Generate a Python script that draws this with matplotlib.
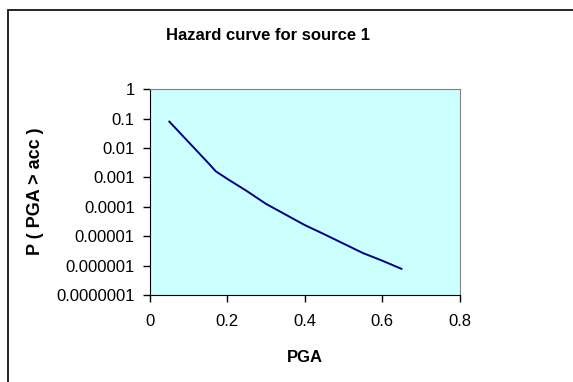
import matplotlib
matplotlib.use('Agg')
import matplotlib.pyplot as plt
from matplotlib.patches import Rectangle
from matplotlib.ticker import FixedLocator, FixedFormatter, NullLocator
import numpy as np

plt.rcParams['font.family'] = ['Liberation Sans', 'DejaVu Sans']

# hazard curve (log10 of exceedance probability)
pga = [0.05, 0.10, 0.15, 0.17, 0.20, 0.25, 0.30, 0.35, 0.40, 0.45, 0.50, 0.55, 0.60, 0.65]
log_p = [-1.10, -1.80, -2.50, -2.79, -3.05, -3.46, -3.90, -4.26, -4.62, -4.93, -5.25, -5.57, -5.83, -6.11]
prob = 10.0 ** np.array(log_p)

y_ticks = [1, 0.1, 0.01, 0.001, 0.0001, 0.00001, 0.000001, 0.0000001]
y_labels = ['1', '0.1', '0.01', '0.001', '0.0001', '0.00001', '0.000001', '0.0000001']
x_ticks = [0, 0.2, 0.4, 0.6, 0.8]
x_labels = ['0', '0.2', '0.4', '0.6', '0.8']

fig = plt.figure(figsize=(5.73, 3.82), dpi=100)
ax = fig.add_axes([150 / 573, 1 - 295 / 382, 309.5 / 573, 205.7 / 382])
ax.set_facecolor('#CCFFFF')

ax.plot(pga, prob, color='#000080', lw=1.4)

ax.set_yscale('log')
ax.set_xlim(0, 0.8)
ax.set_ylim(1e-7, 1)
ax.yaxis.set_major_locator(FixedLocator(y_ticks))
ax.yaxis.set_major_formatter(FixedFormatter(y_labels))
ax.yaxis.set_minor_locator(NullLocator())
ax.xaxis.set_major_locator(FixedLocator(x_ticks))
ax.xaxis.set_major_formatter(FixedFormatter(x_labels))
ax.tick_params(axis='both', direction='out', length=5, width=1, labelsize=12, colors='black')
ax.tick_params(axis='y', pad=6)
ax.tick_params(axis='x', pad=9)

for side in ('top', 'right'):
    ax.spines[side].set_color('#808080')
for side in ('left', 'bottom'):
    ax.spines[side].set_color('black')

# chart area border (only left/top visible in the crop)
fig.patches.append(Rectangle((8 / 573, -0.1), 1.2, 1 - 10.5 / 382 + 0.1,
                             transform=fig.transFigure, fill=False,
                             edgecolor='black', lw=1.2))

fig.text(268 / 573, 1 - 36 / 382, 'Hazard curve for source 1', ha='center', va='center',
         fontsize=12, fontweight='bold')
fig.text(305 / 573, 1 - 358 / 382, 'PGA', ha='center', va='center',
         fontsize=12, fontweight='bold')
fig.text(36 / 573, 1 - 191.5 / 382, 'P ( PGA > acc )', ha='center', va='center',
         rotation=90, fontsize=13, fontweight='bold')

fig.savefig('out.png', dpi=100)
